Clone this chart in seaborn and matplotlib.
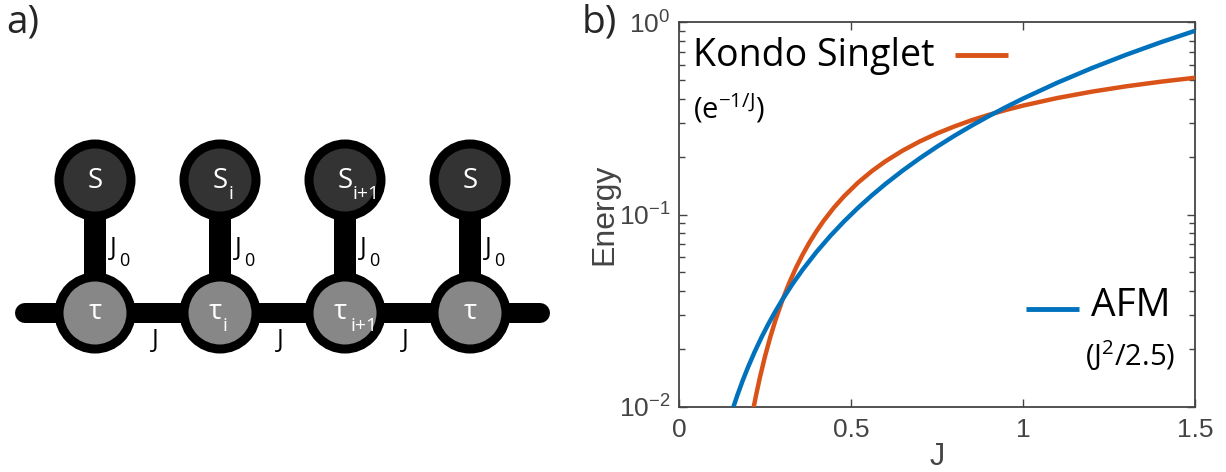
import matplotlib
matplotlib.use("Agg")
import matplotlib.pyplot as plt
from matplotlib.patches import Circle
import seaborn as sns
import pandas as pd

# ---------------- data ----------------
kondo_J = [0.217, 0.225, 0.235, 0.25, 0.265, 0.28, 0.30, 0.32, 0.34, 0.36, 0.38,
           0.40, 0.42, 0.45, 0.48, 0.52, 0.56, 0.60, 0.65, 0.70, 0.75, 0.80,
           0.85, 0.90, 0.95, 1.00, 1.10, 1.20, 1.30, 1.40, 1.50]
kondo_E = [0.00997, 0.01174, 0.01419, 0.01832, 0.02297, 0.02812, 0.03567,
           0.04394, 0.05282, 0.06218, 0.07196, 0.08208, 0.09246, 0.1084, 0.1245,
           0.1462, 0.1677, 0.1889, 0.2147, 0.2397, 0.2636, 0.2865, 0.3085,
           0.3292, 0.3490, 0.3679, 0.4029, 0.4346, 0.4634, 0.4895, 0.5134]
afm_J = [0.158, 0.17, 0.185, 0.20, 0.22, 0.24, 0.26, 0.28, 0.30, 0.33, 0.36,
         0.40, 0.44, 0.48, 0.52, 0.56, 0.60, 0.65, 0.70, 0.75, 0.80, 0.85, 0.90,
         0.95, 1.00, 1.10, 1.20, 1.30, 1.40, 1.50]
afm_E = [0.00999, 0.01156, 0.01369, 0.0160, 0.01936, 0.02304, 0.02704, 0.03136,
         0.0360, 0.04356, 0.05184, 0.0640, 0.07744, 0.09216, 0.10816, 0.12544,
         0.144, 0.169, 0.196, 0.225, 0.256, 0.289, 0.324, 0.361, 0.400, 0.484,
         0.576, 0.676, 0.784, 0.900]
x_ticks = [0, 0.5, 1, 1.5]
x_ticklabels = ["0", "0.5", "1", "1.5"]
y_ticks = [0.01, 0.1, 1]
y_ticklabels = ["$10^{-2}$", "$10^{-1}$", "$10^{0}$"]

top_labels = [("S", ""), ("S", "i"), ("S", "i+1"), ("S", "")]
bottom_labels = [("τ", ""), ("τ", "i"), ("τ", "i+1"), ("τ", "")]
# ---------------------------------------------------------------

sns.set_theme(style="ticks")
plt.rcParams["mathtext.default"] = "regular"
plt.rcParams["font.family"] = ["Open Sans", "DejaVu Sans"]

W, H = 1226, 472
fig = plt.figure(figsize=(W / 100, H / 100), dpi=100)
pt = 72 / 100  # points per pixel

# ---------------- panel a: diagram ----------------
ax0 = fig.add_axes([0, 0, 580 / W, 1])
ax0.set_xlim(0, 580)
ax0.set_ylim(472, 0)
ax0.axis("off")

xs = [95 + 125 * i for i in range(4)]
y_top, y_bot = 180, 313
ax0.plot([25, 540], [y_bot, y_bot], color="black", lw=20 * pt,
         solid_capstyle="round", zorder=1)
for x in xs:
    ax0.plot([x, x], [y_top, y_bot], color="black", lw=22 * pt,
             solid_capstyle="butt", zorder=1)
for i, x in enumerate(xs):
    ax0.add_patch(Circle((x, y_top), 36, facecolor="#333333", edgecolor="black",
                         lw=9 * pt, zorder=2))
    ax0.add_patch(Circle((x, y_bot), 36, facecolor="#878787", edgecolor="black",
                         lw=9 * pt, zorder=2))
    main, sub = top_labels[i]
    ax0.text(x, y_top + 1, main, color="white", fontsize=20, ha="center",
             va="center", zorder=3)
    if sub:
        ax0.text(x + 8, y_top + 14, sub, color="white", fontsize=14, ha="left",
                 va="center", zorder=3)
    main, sub = bottom_labels[i]
    ax0.text(x - (5 if sub else 0), y_bot - 1, main, color="white", fontsize=20,
             ha="center", va="center", zorder=3)
    if sub:
        ax0.text(x + 2 if sub == "i" else x + 5, y_bot + 13, sub, color="white",
                 fontsize=14, ha="left", va="center", zorder=3)
    # J0 labels
    ax0.text(x + 15, y_top + 68, "J", color="black", fontsize=18, ha="left",
             va="center")
    ax0.text(x + 24, y_top + 81, "0", color="black", fontsize=13, ha="left",
             va="center")
for i in range(3):
    xm = (xs[i] + xs[i + 1]) / 2 - 2
    ax0.text(xm, 341, "J", color="black", fontsize=18, ha="center", va="center")

fig.text(6 / W, 1 - 22 / H, "a)", fontsize=28, ha="left", va="center")
fig.text(582 / W, 1 - 22 / H, "b)", fontsize=28, ha="left", va="center")

# ---------------- panel b: energies ----------------
ax = fig.add_axes([679 / W, (H - 407) / H, 516 / W, 385 / H])
kondo_df = pd.DataFrame({"J": kondo_J, "Energy": kondo_E})
afm_df = pd.DataFrame({"J": afm_J, "Energy": afm_E})
orange, blue = "#D95319", "#0072BD"
sns.lineplot(data=kondo_df, x="J", y="Energy", color=orange, lw=3.2, ax=ax,
             zorder=3)
sns.lineplot(data=afm_df, x="J", y="Energy", color=blue, lw=3.2, ax=ax, zorder=4)
ax.set_yscale("log")
ax.set_xlim(0, 1.5)
ax.set_ylim(0.01, 1)

axcol = "#444444"
for s in ax.spines.values():
    s.set_color(axcol)
    s.set_linewidth(1.3)
ax.set_xticks(x_ticks)
ax.set_xticklabels(x_ticklabels, family="Liberation Sans", fontsize=19,
                   color=axcol)
ax.set_yticks(y_ticks)
ax.set_yticklabels(y_ticklabels, family="Liberation Sans", fontsize=19,
                   color=axcol)
ax.tick_params(axis="both", which="both", direction="in", top=True, right=True,
               color=axcol)
ax.tick_params(axis="x", which="major", length=6, width=1, pad=8)
ax.tick_params(axis="y", which="major", length=6, width=1, pad=6)
ax.tick_params(axis="y", which="minor", length=4, width=1)
ax.set_xlabel("J", family="Liberation Sans", fontsize=22, color=axcol,
              labelpad=0)
ax.set_ylabel("Energy", family="Liberation Sans", fontsize=23, color=axcol,
              labelpad=0)

# in-plot labels (legend-like)
ax.text(0.027, 0.912, "Kondo Singlet", transform=ax.transAxes, fontsize=27,
        ha="left", va="center", color="black")
ax.plot([0.535, 0.638], [0.914, 0.914], transform=ax.transAxes, color=orange,
        lw=3.5, solid_capstyle="butt")
ax.text(0.027, 0.775, "(e$^{-1/J}$)", transform=ax.transAxes, fontsize=21,
        ha="left", va="center", color="black")
ax.text(0.952, 0.262, "AFM", transform=ax.transAxes, fontsize=28, ha="right",
        va="center", color="black")
ax.plot([0.672, 0.775], [0.255, 0.255], transform=ax.transAxes, color=blue,
        lw=3.5, solid_capstyle="butt")
ax.text(0.962, 0.133, "(J$^{2}$/2.5)", transform=ax.transAxes, fontsize=21,
        ha="right", va="center", color="black")

fig.savefig("out.png", dpi=100)
